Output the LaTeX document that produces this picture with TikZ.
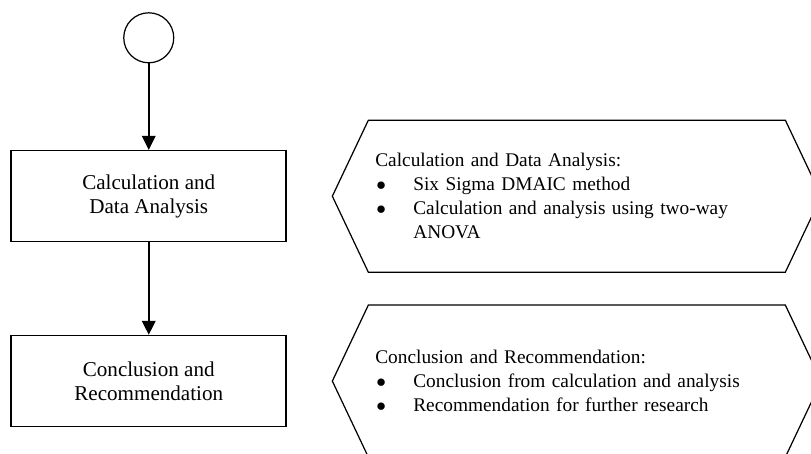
\documentclass[tikz,border=0pt]{standalone}
\usepackage{fontspec}
\setmainfont{Liberation Serif}
\usetikzlibrary{positioning}
\usetikzlibrary{arrows.meta}
\tikzstyle{line} = [draw, line width=1.1pt, -{Triangle[length=0.28cm, width=0.27cm]}]
\tikzstyle{stepbox} = [draw, line width=0.9pt, rectangle, minimum width=5.5cm, minimum height=1.82cm, align=center, font=\fontsize{12}{13.8}\selectfont]
\tikzstyle{startnode} = [draw, line width=0.7pt, circle, minimum size=1cm, inner sep=0pt]
\tikzstyle{notebox} = [rectangle, outer sep=0pt, inner xsep=0.14cm, text width=8.06cm, minimum height=3.04cm, align=left, font=\fontsize{11}{13.6}\selectfont]
\tikzstyle{hexline} = [draw, line width=0.7pt]
\newcommand{\bul}{\makebox[0.76cm][l]{\hspace{0.02cm}$\bullet$}}

\begin{document}
\begin{tikzpicture}[node distance=1.7cm]

			\path[use as bounding box, clip] (0,0) rectangle (16.22,-9.06);

			\begin{scope}

			\def\g{1.846}
			\def\h{0.72}

			\node[stepbox] (calc) at (2.975,-3.924) {Calculation and\\Data Analysis};
			\node[startnode, above=1.73cm of calc] (start) {};
			\node[stepbox, below=\g cm of calc] (concl) {Conclusion and\\Recommendation};

			\path [line] (start) -- (calc);
			\path [line] (calc) -- (concl);

			\node[notebox, right=1.626cm of calc] (calcnote) {Calculation and Data Analysis:\\
				\bul Six Sigma DMAIC method\\
				\bul Calculation and analysis using two-way\\
				\hspace*{0.76cm}ANOVA};
			\node[notebox, right=1.626cm of concl] (conclnote) {Conclusion and Recommendation:\\
				\bul Conclusion from calculation and analysis\\
				\bul Recommendation for further research};

			\path [hexline] (calcnote.north west) -- (calcnote.north east) -- ([xshift=\h cm]calcnote.east)
				-- (calcnote.south east) -- (calcnote.south west) -- ([xshift=-\h cm]calcnote.west) -- cycle;
			\path [hexline] (conclnote.north west) -- (conclnote.north east) -- ([xshift=\h cm]conclnote.east)
				-- (conclnote.south east) -- (conclnote.south west) -- ([xshift=-\h cm]conclnote.west) -- cycle;

			\end{scope}

\end{tikzpicture}
\end{document}
